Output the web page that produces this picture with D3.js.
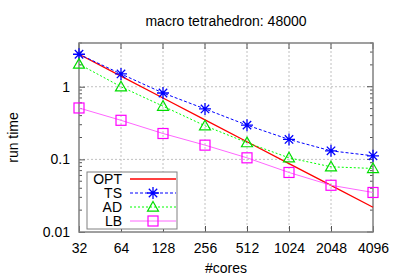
<!DOCTYPE html>
<html>
<head>
<meta charset="utf-8">
<script src="https://cdnjs.cloudflare.com/ajax/libs/d3/7.8.5/d3.min.js"></script>
<style>
  body { margin: 0; background: #fff; }
  text { font-family: "Liberation Sans", Arial, sans-serif; fill: #000; }
</style>
</head>
<body>
<div id="chart"></div>
<script>
// data
var cores = [32, 64, 128, 256, 512, 1024, 2048, 4096];
var optTime = [2.8, 1.4, 0.7, 0.35, 0.175, 0.0875, 0.0438, 0.0219];
var tsTime = [2.8, 1.5, 0.82, 0.495, 0.296, 0.188, 0.131, 0.112];
var adTime = [2.05, 1.0, 0.54, 0.29, 0.17, 0.105, 0.079, 0.075];
var lbTime = [0.51, 0.345, 0.227, 0.157, 0.105, 0.066, 0.044, 0.035];
var yTicks = [0.01, 0.1, 1];

var svgWidth = 399;
var svgHeight = 279;
var margin = { top: 43, right: 26, bottom: 47, left: 79 };
var width = svgWidth - margin.left - margin.right;
var height = svgHeight - margin.top - margin.bottom;

var svg = d3.select('#chart').append('svg')
    .attr('width', svgWidth)
    .attr('height', svgHeight);

var chartGroup = svg.append('g')
    .attr('transform', `translate(${margin.left}, ${margin.top})`);

var xScale = d3.scaleLog().base(2).domain([32, 4096]).range([0, width]);
var yScale = d3.scaleLog().domain([0.01, 4]).range([height, 0]);

// grid
chartGroup.selectAll('.vgrid')
    .data(cores.slice(1, -1))
    .enter().append('line')
    .attr('x1', d => xScale(d)).attr('x2', d => xScale(d))
    .attr('y1', 0).attr('y2', height)
    .attr('stroke', '#c0c0c0').attr('stroke-width', 1)
    .attr('stroke-dasharray', '2,2');
chartGroup.selectAll('.hgrid')
    .data([0.1, 1])
    .enter().append('line')
    .attr('x1', 0).attr('x2', width)
    .attr('y1', d => yScale(d)).attr('y2', d => yScale(d))
    .attr('stroke', '#c0c0c0').attr('stroke-width', 1)
    .attr('stroke-dasharray', '2,2');

// minor y ticks, both sides
var minor = [];
[0.01, 0.1, 1].forEach(function(dec) {
    for (var k = 2; k <= 9; k++) {
        if (dec * k <= 4) minor.push(dec * k);
    }
});
chartGroup.selectAll('.minorL')
    .data(minor).enter().append('line')
    .attr('x1', 0).attr('x2', 3)
    .attr('y1', d => yScale(d)).attr('y2', d => yScale(d))
    .attr('stroke', '#555');
chartGroup.selectAll('.minorR')
    .data(minor).enter().append('line')
    .attr('x1', width - 3).attr('x2', width)
    .attr('y1', d => yScale(d)).attr('y2', d => yScale(d))
    .attr('stroke', '#555');

// axes
var bottomAxis = d3.axisBottom(xScale).tickValues(cores).tickFormat(d3.format('d'))
    .tickSizeInner(-6).tickSizeOuter(0).tickPadding(11);
var leftAxis = d3.axisLeft(yScale).tickValues(yTicks).tickFormat(d => String(d))
    .tickSizeInner(-6).tickSizeOuter(0).tickPadding(9);

var xAxis = chartGroup.append('g')
    .attr('transform', `translate(0, ${height})`)
    .call(bottomAxis);
var yAxis = chartGroup.append('g').call(leftAxis);
[xAxis, yAxis].forEach(function(ax) {
    ax.select('.domain').remove();
    ax.selectAll('line').attr('stroke', '#555');
    ax.selectAll('text').attr('font-size', '14px')
        .attr('font-family', '"Liberation Sans", Arial, sans-serif');
});
// top / right major ticks
chartGroup.selectAll('.topTick').data(cores).enter().append('line')
    .attr('x1', d => xScale(d)).attr('x2', d => xScale(d))
    .attr('y1', 0).attr('y2', 6).attr('stroke', '#555');
chartGroup.selectAll('.rightTick').data(yTicks).enter().append('line')
    .attr('x1', width - 6).attr('x2', width)
    .attr('y1', d => yScale(d)).attr('y2', d => yScale(d)).attr('stroke', '#555');

// frame
chartGroup.append('rect')
    .attr('x', 0).attr('y', 0).attr('width', width).attr('height', height)
    .attr('fill', 'none').attr('stroke', '#808080').attr('stroke-width', 1.5);

// series
var series = [
    { name: 'OPT', values: optTime, color: '#ff0000', dash: null, marker: 'none', lineColor: '#ff0000' },
    { name: 'TS', values: tsTime, color: '#0000ff', dash: '3,2', marker: 'star', lineColor: '#0000ff' },
    { name: 'AD', values: adTime, color: '#00dd00', dash: '2,2', marker: 'triangle', lineColor: '#00ff00' },
    { name: 'LB', values: lbTime, color: '#ff00ff', dash: null, marker: 'square', lineColor: '#ff66ff' }
];

var line = d3.line()
    .x(d => xScale(d[0]))
    .y(d => yScale(d[1]));

function drawMarker(g, type, x, y, color) {
    if (type === 'star') {
        var r = 6;
        var path = `M${x - r},${y}L${x + r},${y}M${x},${y - r}L${x},${y + r}` +
            `M${x - r * 0.7},${y - r * 0.7}L${x + r * 0.7},${y + r * 0.7}` +
            `M${x - r * 0.7},${y + r * 0.7}L${x + r * 0.7},${y - r * 0.7}`;
        g.append('path').attr('d', path).attr('stroke', color).attr('stroke-width', 1.3).attr('fill', 'none');
    } else if (type === 'triangle') {
        var s = 5.5;
        g.append('path')
            .attr('d', `M${x},${y - s}L${x + s},${y + s * 0.75}L${x - s},${y + s * 0.75}Z`)
            .attr('stroke', color).attr('stroke-width', 1.2).attr('fill', 'none');
    } else if (type === 'square') {
        var h = 5;
        g.append('rect').attr('x', x - h).attr('y', y - h).attr('width', 2 * h).attr('height', 2 * h)
            .attr('stroke', color).attr('stroke-width', 1.2).attr('fill', 'none');
    }
}

series.forEach(function(s) {
    var pts = cores.map((c, i) => [c, s.values[i]]);
    var g = chartGroup.append('g');
    g.append('path')
        .attr('d', line(pts))
        .attr('fill', 'none')
        .attr('stroke', s.lineColor)
        .attr('stroke-width', s.name === 'OPT' ? 1.3 : 1)
        .attr('stroke-dasharray', s.dash);
    pts.forEach(function(p) {
        drawMarker(g, s.marker, xScale(p[0]), yScale(p[1]), s.color);
    });
});

// legend
var legend = chartGroup.append('g')
    .attr('transform', `translate(${87 - margin.left}, ${172 - margin.top})`);
legend.append('rect')
    .attr('x', 0).attr('y', 0).attr('width', 90).attr('height', 57)
    .attr('fill', '#fff').attr('stroke', '#808080').attr('stroke-width', 1);
series.forEach(function(s, i) {
    var y = 7 + i * 14;
    legend.append('text')
        .attr('x', 35).attr('y', y).attr('dy', '0.35em')
        .attr('text-anchor', 'end').attr('font-size', '14px')
        .text(s.name);
    legend.append('line')
        .attr('x1', 43).attr('x2', 89).attr('y1', y).attr('y2', y)
        .attr('stroke', s.lineColor)
        .attr('stroke-width', s.name === 'OPT' ? 1.3 : 1)
        .attr('stroke-dasharray', s.dash);
    drawMarker(legend, s.marker, 66, y, s.color);
});

// title and labels
svg.append('text')
    .attr('x', margin.left + width / 2).attr('y', 26)
    .attr('text-anchor', 'middle').attr('font-size', '14px')
    .text('macro tetrahedron: 48000');
svg.append('text')
    .attr('x', margin.left + width / 2).attr('y', 273)
    .attr('text-anchor', 'middle').attr('font-size', '14px')
    .text('#cores');
svg.append('text')
    .attr('transform', `translate(18, ${margin.top + height / 2}) rotate(-90)`)
    .attr('text-anchor', 'middle').attr('font-size', '14px')
    .text('run time');
</script>
</body>
</html>
